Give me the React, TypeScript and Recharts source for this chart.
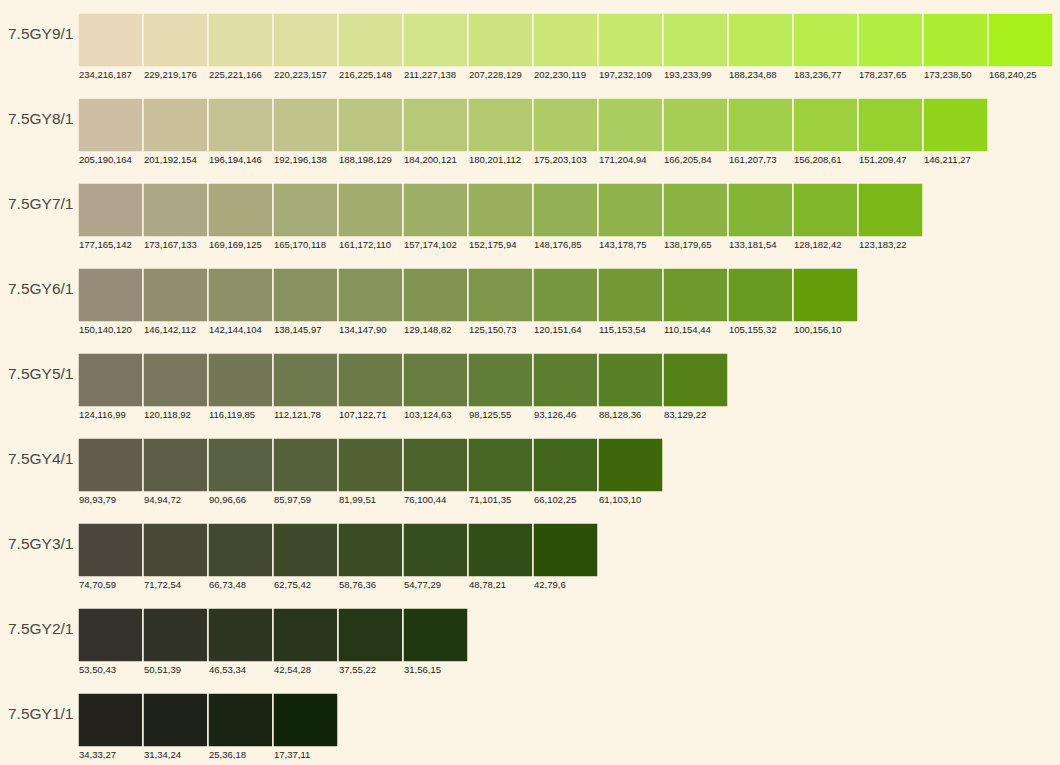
import { Bar, BarChart, Cell, LabelList, XAxis, YAxis } from "recharts";

const rowNames = [
  "7.5GY9/1", "7.5GY8/1", "7.5GY7/1", "7.5GY6/1", "7.5GY5/1",
  "7.5GY4/1", "7.5GY3/1", "7.5GY2/1", "7.5GY1/1",
];

const value9 = [
  "234,216,187", "229,219,176", "225,221,166", "220,223,157", "216,225,148",
  "211,227,138", "207,228,129", "202,230,119", "197,232,109", "193,233,99",
  "188,234,88", "183,236,77", "178,237,65", "173,238,50", "168,240,25",
];
const value8 = [
  "205,190,164", "201,192,154", "196,194,146", "192,196,138", "188,198,129",
  "184,200,121", "180,201,112", "175,203,103", "171,204,94", "166,205,84",
  "161,207,73", "156,208,61", "151,209,47", "146,211,27",
];
const value7 = [
  "177,165,142", "173,167,133", "169,169,125", "165,170,118", "161,172,110",
  "157,174,102", "152,175,94", "148,176,85", "143,178,75", "138,179,65",
  "133,181,54", "128,182,42", "123,183,22",
];
const value6 = [
  "150,140,120", "146,142,112", "142,144,104", "138,145,97", "134,147,90",
  "129,148,82", "125,150,73", "120,151,64", "115,153,54", "110,154,44",
  "105,155,32", "100,156,10",
];
const value5 = [
  "124,116,99", "120,118,92", "116,119,85", "112,121,78", "107,122,71",
  "103,124,63", "98,125,55", "93,126,46", "88,128,36", "83,129,22",
];
const value4 = [
  "98,93,79", "94,94,72", "90,96,66", "85,97,59", "81,99,51",
  "76,100,44", "71,101,35", "66,102,25", "61,103,10",
];
const value3 = [
  "74,70,59", "71,72,54", "66,73,48", "62,75,42", "58,76,36",
  "54,77,29", "48,78,21", "42,79,6",
];
const value2 = ["53,50,43", "50,51,39", "46,53,34", "42,54,28", "37,55,22", "31,56,15"];
const value1 = ["34,33,27", "31,34,24", "25,36,18", "17,37,11"];

const rowColors = [value9, value8, value7, value6, value5, value4, value3, value2, value1];
const maxSwatches = 15;
const slots = Array.from({ length: maxSwatches }, (_, i) => i);

const data = rowNames.map((name, r) => {
  const row: any = { name };
  rowColors[r].forEach((c, i) => {
    row[`s${i}`] = 1;
    row[`c${i}`] = c;
  });
  return row;
});

const BG = "#FCF5E5";

const RowTick = (props: any) => {
  const { y, payload } = props;
  return (
    <text x={8} y={y - 1} fontSize={15.5} fill="#484848" fontFamily="Arial, 'Liberation Sans', sans-serif">
      {payload.value}
    </text>
  );
};

const SwatchLabel = (props: any) => {
  const { x, y, height, value } = props;
  if (!value) return null;
  return (
    <text x={x + 1} y={y + height + 11} fontSize={9.5} fill="#222" fontFamily="Arial, 'Liberation Sans', sans-serif">
      {value}
    </text>
  );
};

export default function App() {
  return (
    <div style={{ position: "absolute", left: 0, top: -3, width: 1060, height: 768, background: BG }}>
      <BarChart
        width={1060}
        height={768}
        data={data}
        layout="vertical"
        barSize={54}
        margin={{ top: 0, right: 7, bottom: 3, left: 8 }}
      >
        <XAxis type="number" domain={[0, maxSwatches]} hide />
        <YAxis
          type="category"
          dataKey="name"
          width={70}
          axisLine={false}
          tickLine={false}
          tick={<RowTick />}
        />
        {slots.map((i) => (
          <Bar
            key={i}
            dataKey={`s${i}`}
            stackId="a"
            stroke={BG}
            strokeWidth={1.5}
            isAnimationActive={false}
          >
            {data.map((row, r) => (
              <Cell key={r} fill={row[`c${i}`] ? `rgb(${row[`c${i}`]})` : "none"} />
            ))}
            <LabelList dataKey={`c${i}`} content={<SwatchLabel />} />
          </Bar>
        ))}
      </BarChart>
    </div>
  );
}
